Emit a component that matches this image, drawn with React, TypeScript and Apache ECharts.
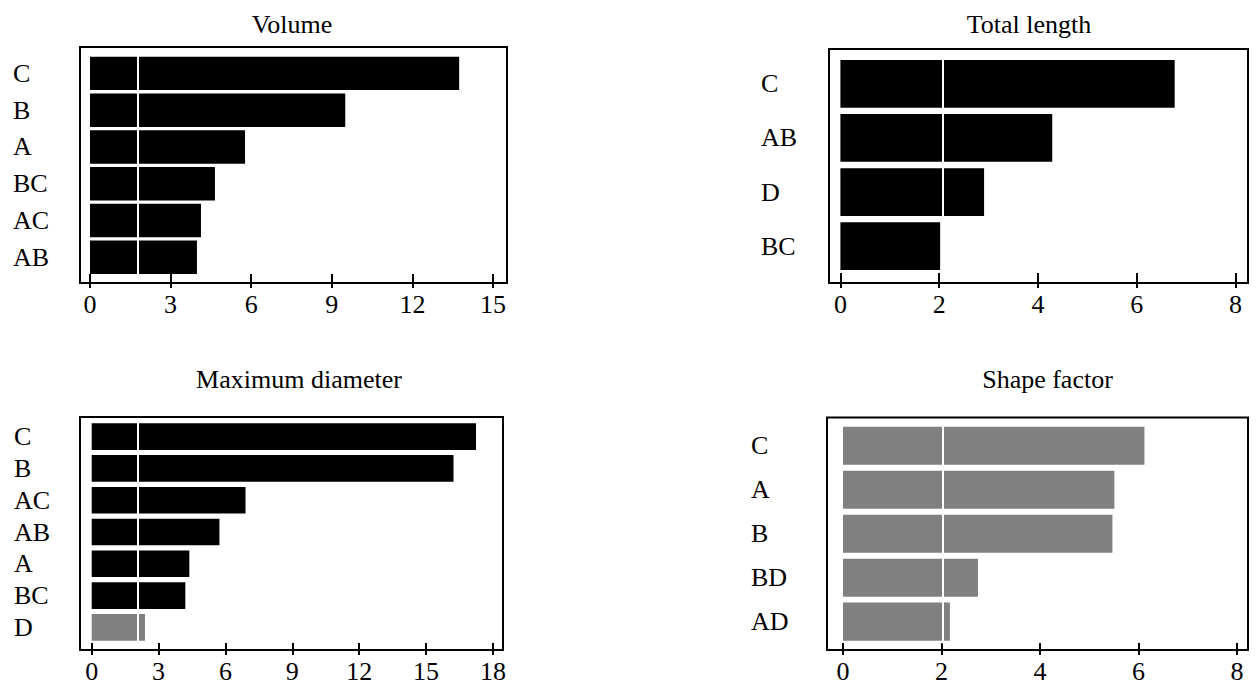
import React, { useEffect, useRef } from "react";
import * as echarts from "echarts";

// ---- Data ----
const volumeCategories = ["C", "B", "A", "BC", "AC", "AB"];
const volumeValues = [13.74, 9.5, 5.77, 4.65, 4.13, 3.98];
const volumeColors = ["#000", "#000", "#000", "#000", "#000", "#000"];
const volumeThreshold = 1.79;
const volumeTicks = [0, 3, 6, 9, 12, 15];

const lengthCategories = ["C", "AB", "D", "BC"];
const lengthValues = [6.77, 4.29, 2.91, 2.02];
const lengthColors = ["#000", "#000", "#000", "#000"];
const lengthThreshold = 2.07;
const lengthTicks = [0, 2, 4, 6, 8];

const diameterCategories = ["C", "B", "AC", "AB", "A", "BC", "D"];
const diameterValues = [17.24, 16.23, 6.9, 5.73, 4.38, 4.2, 2.39];
const diameterColors = ["#000", "#000", "#000", "#000", "#000", "#000", "#808080"];
const diameterThreshold = 2.08;
const diameterTicks = [0, 3, 6, 9, 12, 15, 18];

const shapeCategories = ["C", "A", "B", "BD", "AD"];
const shapeValues = [6.12, 5.51, 5.47, 2.74, 2.17];
const shapeColors = ["#808080", "#808080", "#808080", "#808080", "#808080"];
const shapeThreshold = 2.02;
const shapeTicks = [0, 2, 4, 6, 8];

const titles = ["Volume", "Total length", "Maximum diameter", "Shape factor"];

// ---- Layout ----
const FONT = "'Liberation Serif', 'Times New Roman', serif";
const panels = [
  { title: titles[0], cats: volumeCategories, vals: volumeValues, colors: volumeColors, thr: volumeThreshold, ticks: volumeTicks,
    left: 80, width: 427, boxTop: 47, boxBottom: 283, gridTop: 55, gridBottom: 275.6, min: -0.372, max: 15.52,
    margin: 67, gap: "9%", tx: 292, ty: 24, tickIn: 9 },
  { title: titles[1], cats: lengthCategories, vals: lengthValues, colors: lengthColors, thr: lengthThreshold, ticks: lengthTicks,
    left: 829, width: 419, boxTop: 49, boxBottom: 283, gridTop: 56.75, gridBottom: 273.25, min: -0.231, max: 8.255,
    margin: 68, gap: "12%", tx: 1029, ty: 24, tickIn: 10 },
  { title: titles[2], cats: diameterCategories, vals: diameterValues, colors: diameterColors, thr: diameterThreshold, ticks: diameterTicks,
    left: 80, width: 423, boxTop: 417, boxBottom: 650, gridTop: 420.8, gridBottom: 643.2, min: -0.525, max: 18.45,
    margin: 66, gap: "16%", tx: 299, ty: 379, tickIn: 7 },
  { title: titles[3], cats: shapeCategories, vals: shapeValues, colors: shapeColors, thr: shapeThreshold, ticks: shapeTicks,
    left: 827, width: 421, boxTop: 417.5, boxBottom: 650, gridTop: 423.8, gridBottom: 643.6, min: -0.325, max: 8.223,
    margin: 76, gap: "13.5%", tx: 1047.5, ty: 379, tickIn: 7 },
];

export default function App() {
  const ref = useRef<HTMLDivElement>(null);
  useEffect(() => {
    if (!ref.current) return;
    const chart = echarts.init(ref.current, undefined, { renderer: "svg" });
    const grid: any[] = [];
    const xAxis: any[] = [];
    const yAxis: any[] = [];
    const series: any[] = [];
    const graphic: any[] = [];
    panels.forEach((p, i) => {
      grid.push({ left: p.left, width: p.width, top: p.gridTop, height: p.gridBottom - p.gridTop, containLabel: false });
      const off = p.boxBottom - p.gridBottom;
      xAxis.push({
        gridIndex: i, type: "value", min: p.min, max: p.max, position: "bottom", offset: off,
        axisLine: { show: true, lineStyle: { color: "#000", width: 2 } },
        axisTick: { show: true, inside: true, length: p.tickIn, customValues: p.ticks, lineStyle: { color: "#000", width: 2 } },
        axisLabel: { customValues: p.ticks, color: "#000", fontFamily: FONT, fontSize: 26, margin: 8 },
        splitLine: { show: false },
      });
      xAxis.push({
        gridIndex: i, type: "value", min: p.min, max: p.max, position: "bottom", offset: off,
        axisLine: { show: false },
        axisTick: { show: true, inside: false, length: 5, customValues: p.ticks, lineStyle: { color: "#000", width: 2 } },
        axisLabel: { show: false },
        splitLine: { show: false },
      });
      yAxis.push({
        gridIndex: i, type: "category", data: p.cats, inverse: true,
        axisLine: { show: false }, axisTick: { show: false },
        axisLabel: { interval: 0, hideOverlap: false, align: "left", margin: p.margin, color: "#000", fontFamily: FONT, fontSize: 26 },
      });
      series.push({
        type: "bar", xAxisIndex: 2 * i, yAxisIndex: i,
        data: p.vals.map((v, k) => ({ value: v, itemStyle: { color: p.colors[k] } })),
        barCategoryGap: p.gap,
        markLine: {
          silent: true, symbol: ["none", "none"], label: { show: false },
          lineStyle: { color: "#fff", width: 2, type: "solid" },
          data: [{ xAxis: p.thr }],
        },
      });
      graphic.push({
        type: "rect", silent: true, z: 10,
        shape: { x: p.left, y: p.boxTop, width: p.width, height: p.boxBottom - p.boxTop },
        style: { fill: "none", stroke: "#000", lineWidth: 2 },
      });
      graphic.push({
        type: "text", x: p.tx, y: p.ty, silent: true,
        style: { text: p.title, fontFamily: FONT, fontSize: 26, fill: "#000", align: "center", verticalAlign: "middle" },
      });
    });
    chart.setOption({
      animation: false,
      backgroundColor: "#fff",
      grid, xAxis, yAxis, series, graphic,
    });
    return () => chart.dispose();
  }, []);
  return <div ref={ref} style={{ position: "absolute", left: 0, top: 0, width: 1259, height: 693 }} />;
}
